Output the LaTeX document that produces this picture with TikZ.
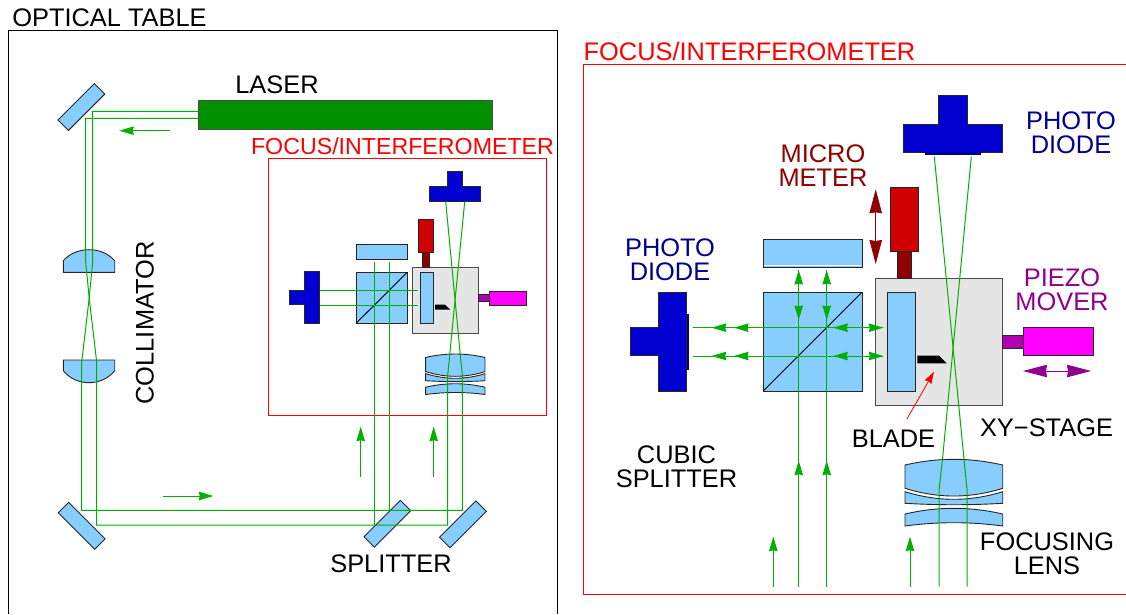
\documentclass[tikz,border=0pt]{standalone}
\usepackage{fontspec}
\setmainfont{Liberation Sans}
\usetikzlibrary{arrows.meta}
\definecolor{glass}{HTML}{87CEFF}
\definecolor{beamgreen}{HTML}{00B000}
\definecolor{lasergreen}{HTML}{009000}
\definecolor{diodeblue}{HTML}{0000D0}
\definecolor{navytext}{HTML}{00008F}
\definecolor{microred}{HTML}{D00000}
\definecolor{microdark}{HTML}{8F0000}
\definecolor{piezopink}{HTML}{FF00FF}
\definecolor{piezopurple}{HTML}{B000B0}
\definecolor{purpletext}{HTML}{8F008F}
\definecolor{stagegrey}{HTML}{E5E5E5}
\tikzset{
  optic/.style={draw=black!85,fill=glass,line width=0.9pt},
  mirror/.style={optic,minimum width=51.5pt,minimum height=14.8pt,inner sep=0},
  beam/.style={draw=beamgreen,line width=1pt},
  diode/.style={draw=black!85,fill=diodeblue,line width=0.9pt},
  lab/.style={font=\fontsize{25.4}{24}\selectfont,align=center,inner sep=0},
  greentip/.style={-{Stealth[inset=1pt,length=14.5pt,width=8.5pt]}},
  bothtips/.style={{Stealth[inset=1pt,length=24pt,width=12.5pt]}-{Stealth[inset=1pt,length=24pt,width=12.5pt]}},
}
\newcommand{\photodiode}[3]{%
  \begin{scope}[shift={(#1)},scale=#2,rotate=#3]
    \draw[diode] (-1.75,0) -- (1.75,0) -- (1.75,-1) -- (0.5,-1) -- (0.5,-2) -- (-0.5,-2) -- (-0.5,-1) -- (-1.75,-1) -- cycle;
  \end{scope}}
\newcommand{\lensgroup}[2]{%
  \begin{scope}[shift={(#1)},scale=#2]
    \draw[optic] (-48.85,5.7) .. controls (-16,-1.9) and (16,-1.9) .. (48.85,5.7) -- (48.85,29) .. controls (16,39.3) and (-16,39.3) .. (-48.85,29) -- cycle;
    \draw[optic] (-48.85,32.4) .. controls (-16,42.5) and (16,42.5) .. (48.85,32.4) -- (48.85,44) .. controls (16,45.9) and (-16,45.9) .. (-48.85,44) -- cycle;
    \draw[optic] (-48.85,54.7) .. controls (-16,47.1) and (16,47.1) .. (48.85,54.7) -- (48.85,66.7) .. controls (16,62.3) and (-16,62.3) .. (-48.85,66.7) -- cycle;
  \end{scope}}
\begin{document}
\begin{tikzpicture}[x=1pt,y=-1pt]
  \useasboundingbox (0,0) rectangle (1126,614);
  % optical table
  \draw[line width=1pt] (8.7,614) -- (8.7,30.7) -- (557,30.7) -- (557,614);
  \node[lab] (tablelabel) at (109.5,18) {OPTICAL TABLE};
  \draw[draw=black!70,fill=lasergreen,line width=0.9pt] (198.7,100.3) rectangle (492,129.7);
  \node[lab] (laserlabel) at (277,85) {LASER};
  \node[lab,rotate=90] (collimatorlabel) at (145,323) {COLLIMATOR};
  \node[lab] (splitterlabel) at (391,564) {SPLITTER};
  \node[mirror,rotate=45] (mirrortop) at (81.4,107) {};
  \node[mirror,rotate=-45] (mirrorleft) at (81.7,525.8) {};
  \node[mirror,rotate=45] (splitter) at (387.4,523.7) {};
  \node[mirror,rotate=45] (mirrorright) at (463,524.3) {};
  \draw[optic] (63.3,272.3) -- (63.3,260.7) .. controls (76,246) and (102,246) .. (114.7,260.7) -- (114.7,272.3) -- cycle;
  \draw[optic] (63.3,360) -- (63.3,370.7) .. controls (76,386.7) and (102,386.7) .. (114.7,370.7) -- (114.7,360) -- cycle;
  % small focus box
  \draw[red,line width=1pt] (268.3,158.7) rectangle (546.7,415.3);
  \node[lab,red,font=\fontsize{23.2}{24}\selectfont] (smallfocuslabel) at (402.5,146.5) {FOCUS/INTERFEROMETER};
  \draw[draw=black!70,fill=stagegrey,line width=0.9pt] (412.3,267) rectangle (478.3,333);
  \draw[optic] (356,272.3) rectangle (407.3,323.3);
  \draw[line width=0.9pt] (356,323.3) -- (407.3,272.3);
  \draw[optic] (356,244.3) rectangle (407.3,259.3);
  \draw[optic] (420,272.3) rectangle (433.7,323.3);
  \fill (435,304.7) -- (445,304.7) -- (450.3,309.7) -- (435,309.7) -- cycle;
  \draw[draw=black!85,fill=microred,line width=0.9pt] (418.3,219.3) rectangle (433,252.3);
  \draw[draw=black!85,fill=microdark,line width=0.9pt] (422,252.3) rectangle (429.7,267);
  \draw[draw=black!85,fill=piezopink,line width=0.9pt] (489.7,291) rectangle (526.7,305.3);
  \draw[draw=black!85,fill=piezopurple,line width=0.9pt] (478.3,294.3) rectangle (489.7,301.7);
  \photodiode{455,201.3}{14.7}{0}
  \photodiode{319.3,297.5}{14.7}{90}
  \lensgroup{455.3,354}{0.607}
  % beams on the table
  \draw[beam] (198.7,111.3) -- (92.7,111.3) -- (92.7,262) -- (89.2,298) -- (81.7,362) -- (81.7,510.3) -- (462.3,510.3) -- (462.3,375) -- (460.5,357) -- (445.7,201.7);
  \draw[beam] (198.7,118.3) -- (85.7,118.3) -- (85.7,262) -- (89.2,298) -- (96.7,362) -- (96.7,525) -- (447.7,525) -- (447.7,375) -- (449.5,357) -- (464.7,201.7);
  \draw[beam] (374.3,525) -- (374.3,261.7);
  \draw[beam] (389,510.3) -- (389,261.7);
  \foreach \y in {290.7,305.3} {
    \draw[beam] (320,\y) -- (418.3,\y);
  }
  \draw[beam,greentip] (170,130.7) -- (119.3,130.7);
  \draw[beam,greentip] (163.3,496) -- (213.3,496);
  \foreach \x in {360.7,433.7} {
    \draw[beam,greentip] (\x,476.7) -- (\x,426.7);
  }
  % large focus box
  \draw[red,line width=1pt] (1126,64) -- (583,64) -- (583,594) -- (1126,594);
  \node[lab,red] (focuslabel) at (749.5,51) {FOCUS/INTERFEROMETER};
  \draw[draw=black!70,fill=stagegrey,line width=1pt] (875.7,278.3) rectangle (1002,405);
  \draw[optic] (763.3,292.3) rectangle (862,391);
  \draw[line width=0.9pt] (763.3,391) -- (862,292.3);
  \draw[optic] (763.3,239) rectangle (862,267);
  \draw[white,line width=0.8pt] (764,265) -- (861.3,265);
  \draw[optic] (887.7,292.3) rectangle (915.7,391);
  \coordinate (bladetip) at (934,371.7);
  \coordinate (bladefoot) at (906.7,419.3);
  \fill (917.3,355.7) -- (939,355.7) -- (946.7,363.3) -- (917.3,363.3) -- cycle;
  \draw[draw=black!85,fill=microred,line width=0.9pt] (890,187.3) rectangle (918.7,251);
  \draw[draw=black!85,fill=microdark,line width=0.9pt] (897.3,251) rectangle (911,278.3);
  \draw[draw=black!85,fill=piezopink,line width=0.9pt] (1023,327.7) rectangle (1093.3,355.7);
  \draw[draw=black!85,fill=piezopurple,line width=0.9pt] (1002,335) rectangle (1023,348.7);
  \photodiode{952.8,152.3}{28.3}{0}
  \photodiode{686.7,341.6}{28.3}{90}
  \fill[navytext] (925,152.3) rectangle (981,154.5);
  \fill[navytext] (686.7,314) rectangle (689,370);
  \lensgroup{953.85,459.3}{1}
  % beams in the large box
  \draw[beam] (939,586.7) -- (939,490) -- (942.5,459) -- (971.3,156.7);
  \draw[beam] (967,586.7) -- (967,490) -- (964,459) -- (934.3,156.7);
  \foreach \x in {798.7,826.7} {
    \draw[beam] (\x,586.7) -- (\x,270);
    \draw[beam,greentip] (\x,586.7) -- (\x,460.7);
    \draw[beam,greentip] (\x,300) -- (\x,270);
    \draw[beam,greentip] (\x,290) -- (\x,320);
  }
  \foreach \y in {327.7,356} {
    \draw[beam] (693.3,\y) -- (883.3,\y);
    \draw[beam,greentip] (750,\y) -- (711.7,\y);
    \draw[beam,greentip] (770,\y) -- (734,\y);
    \draw[beam,greentip] (860,\y) -- (833.3,\y);
    \draw[beam,greentip] (850,\y) -- (883.3,\y);
  }
  \foreach \x in {773.3,910} {
    \draw[beam,greentip] (\x,586.7) -- (\x,536.7);
  }
  % labels and small arrows
  \draw[draw=red,line width=0.8pt,-{Stealth[inset=1pt,length=12pt,width=7.5pt]}] (bladefoot) -- (bladetip);
  \coordinate (microtop) at (875.7,189.3);
  \coordinate (microbottom) at (875.7,264);
  \draw[draw=microdark,line width=0.8pt,fill=microdark,bothtips] (microtop) -- (microbottom);
  \coordinate (piezoleft) at (1023,371);
  \coordinate (piezoright) at (1091,371);
  \draw[draw=purpletext,line width=0.8pt,fill=purpletext,bothtips] (piezoleft) -- (piezoright);
  \node[lab,text=microdark] (microlabel) at (823,166) {MICRO\\METER};
  \node[lab,text=navytext] (diodetoplabel) at (1071,133) {PHOTO\\DIODE};
  \node[lab,text=navytext] (diodeleftlabel) at (670,260) {PHOTO\\DIODE};
  \node[lab,text=purpletext] (piezolabel) at (1062,290) {PIEZO\\MOVER};
  \node[lab] (cubiclabel) at (676.5,467) {CUBIC\\SPLITTER};
  \node[lab] (bladelabel) at (893.5,439) {BLADE};
  \node[lab] (stagelabel) at (1046.5,428) {XY−STAGE};
  \node[lab] (lenslabel) at (1047,554) {FOCUSING\\LENS};
\end{tikzpicture}
\end{document}
